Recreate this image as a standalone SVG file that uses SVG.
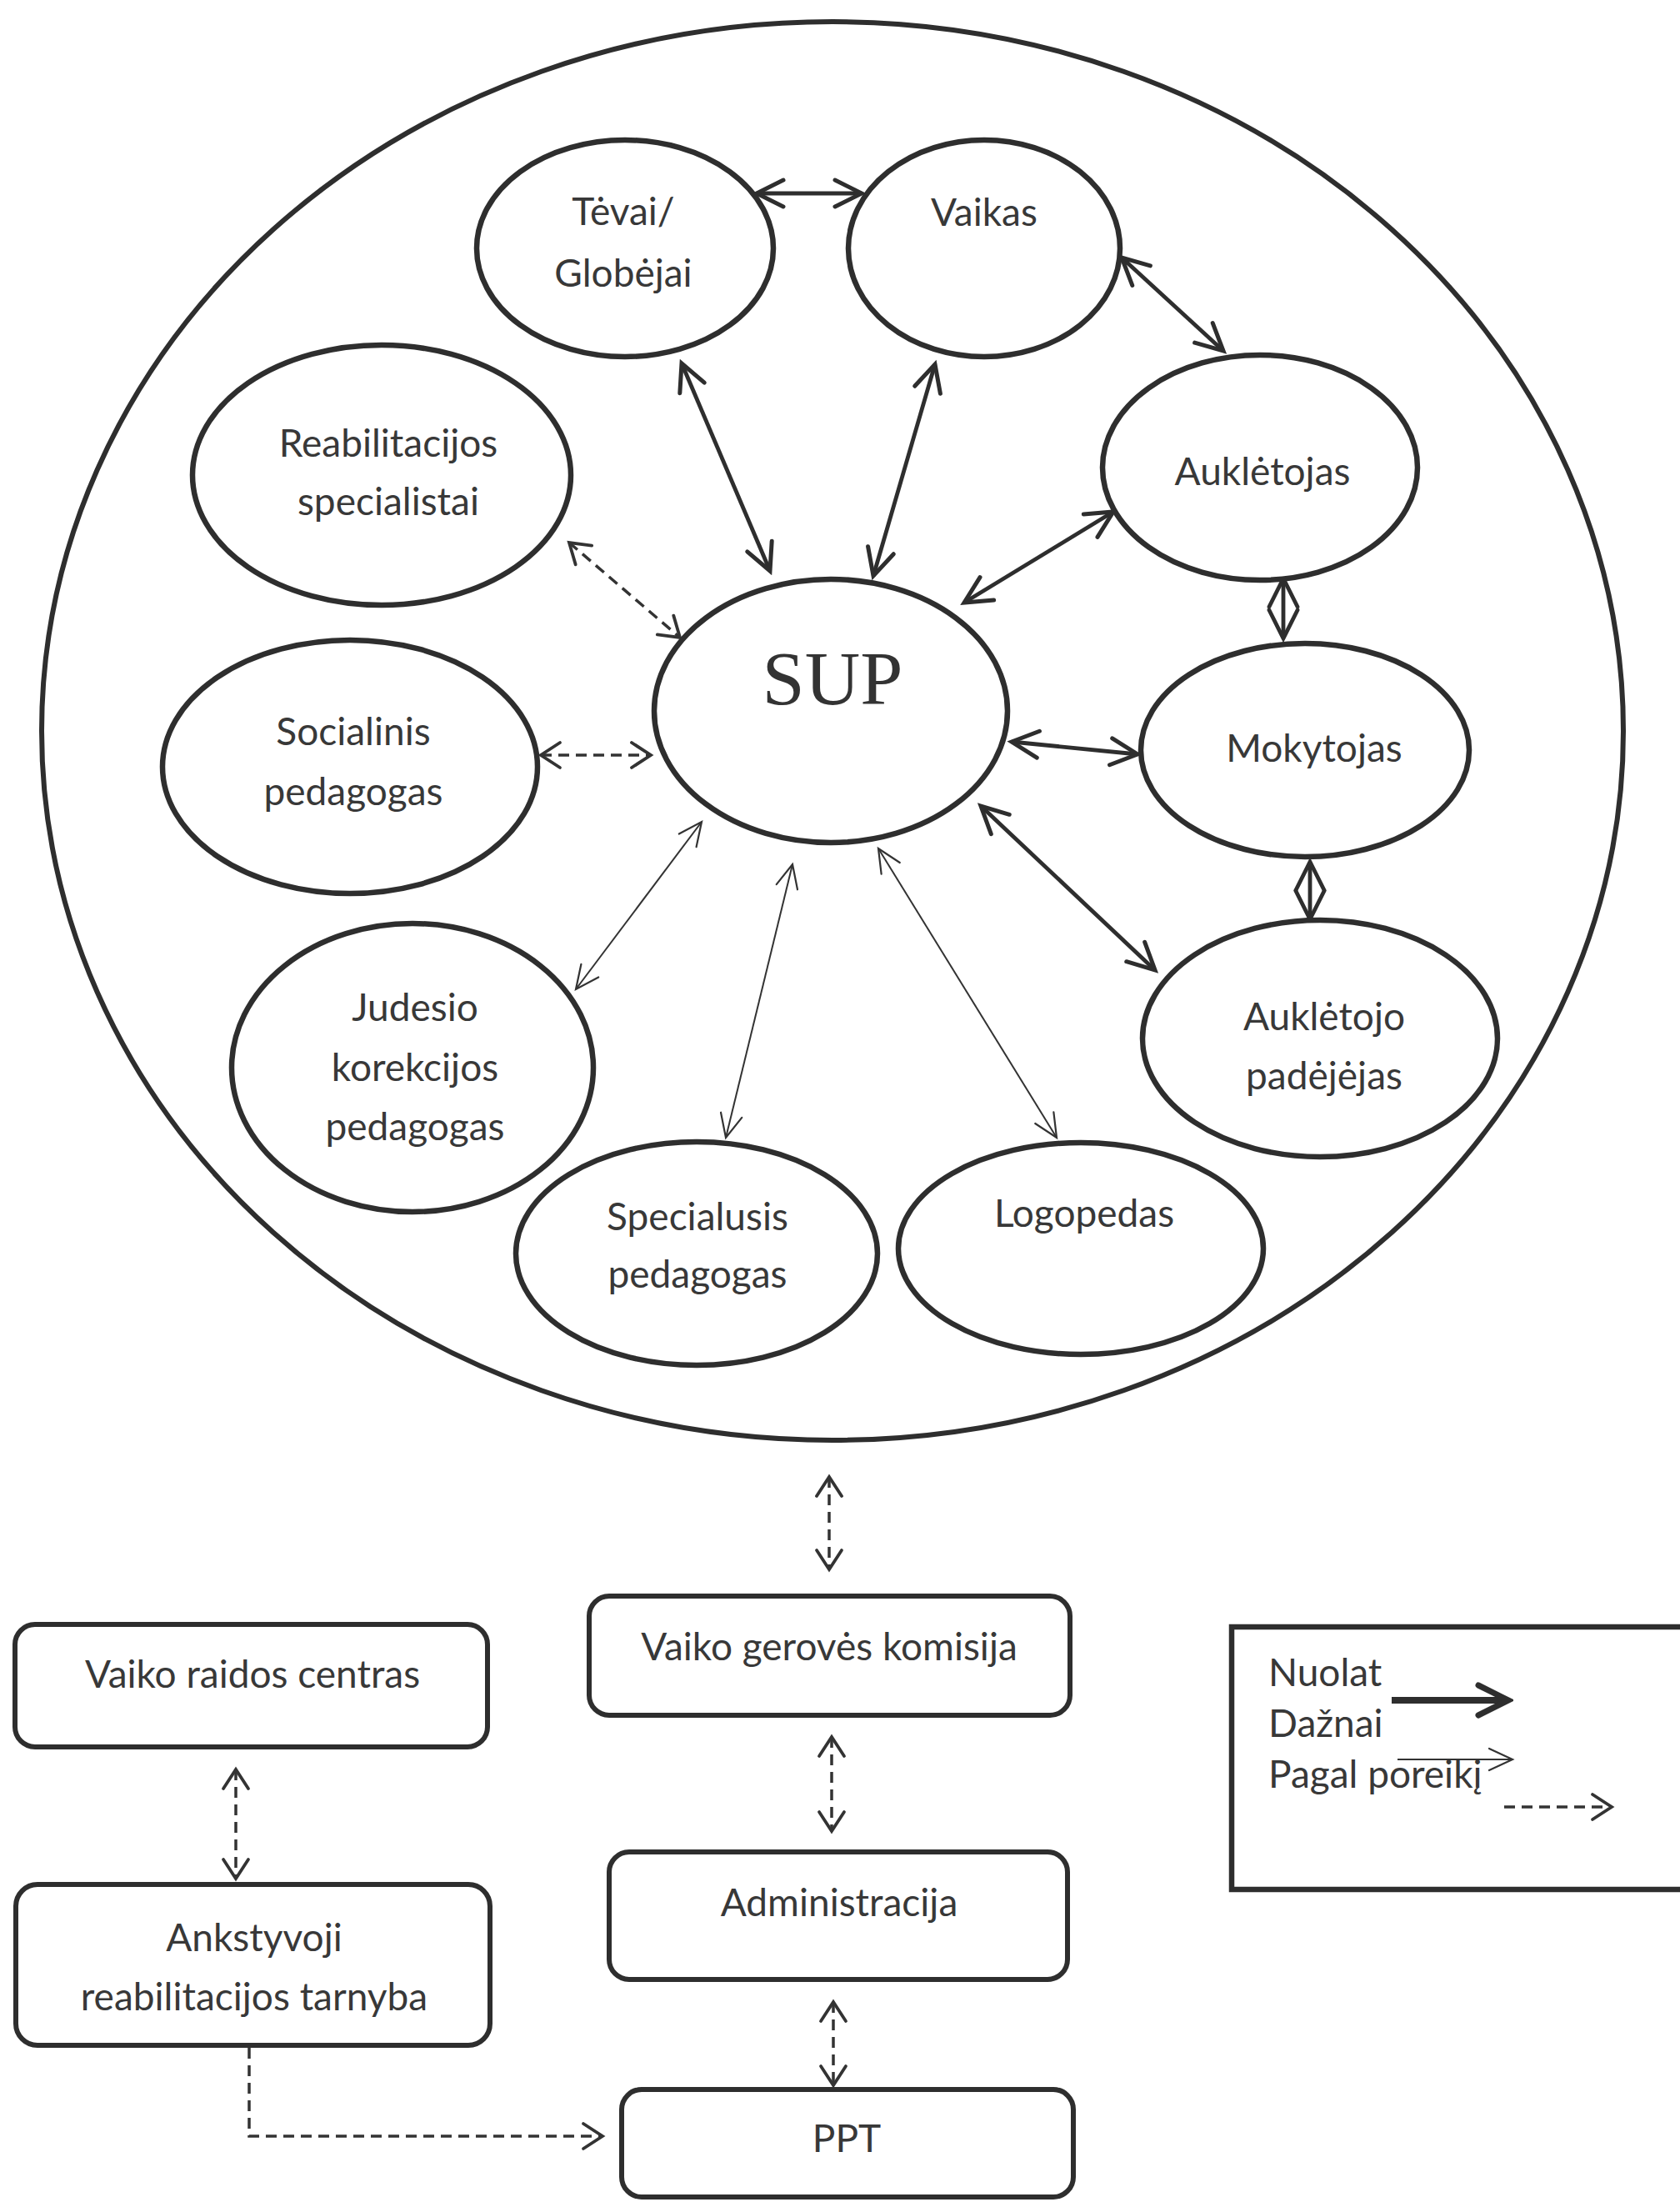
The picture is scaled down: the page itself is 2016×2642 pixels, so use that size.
<svg xmlns="http://www.w3.org/2000/svg" width="2016" height="2642" viewBox="0 0 2016 2642">
<style>
.bg{fill:#ffffff}
.node ellipse{fill:#ffffff;stroke:#2e2e2e;stroke-width:6.5}
.node rect{fill:#ffffff;stroke:#2e2e2e;stroke-width:6}
.big{fill:none;stroke:#2e2e2e;stroke-width:6}
text{font-family:Lato,"Open Sans","DejaVu Sans",sans-serif;font-size:46px;fill:#383838;text-anchor:middle}
.sup{font-family:"Liberation Serif","Times New Roman",serif;font-size:92px;fill:#333333}
.leg{text-anchor:start;font-size:46px}
.thick{stroke:#2e2e2e;stroke-width:4.8;fill:none}
.thin{stroke:#333333;stroke-width:2;fill:none}
.dash{stroke:#333333;stroke-width:3.5;fill:none;stroke-dasharray:13 8}
</style>
<defs>
<marker id="aT" viewBox="-38 -22 44 44" refX="0" refY="0" markerWidth="44" markerHeight="44" markerUnits="userSpaceOnUse" orient="auto-start-reverse">
<path d="M-32,-16 L0,0 L-32,16" fill="none" stroke="#2e2e2e" stroke-width="5" stroke-linecap="round" stroke-linejoin="miter"/>
</marker>
<marker id="aM" viewBox="-38 -22 44 44" refX="0" refY="0" markerWidth="44" markerHeight="44" markerUnits="userSpaceOnUse" orient="auto-start-reverse">
<path d="M-34,-17 L0,0 L-34,17" fill="none" stroke="#2e2e2e" stroke-width="4.8" stroke-linecap="round"/>
</marker>
<marker id="aL" viewBox="-44 -26 50 52" refX="0" refY="0" markerWidth="50" markerHeight="52" markerUnits="userSpaceOnUse" orient="auto">
<path d="M-36,-18 L0,0 L-36,18" fill="none" stroke="#2e2e2e" stroke-width="7" stroke-linecap="round"/>
</marker>
<marker id="aN" viewBox="-34 -18 38 36" refX="0" refY="0" markerWidth="38" markerHeight="36" markerUnits="userSpaceOnUse" orient="auto-start-reverse">
<path d="M-28,-13 L0,0 L-28,13" fill="none" stroke="#333333" stroke-width="2.2" stroke-linecap="round"/>
</marker>
<marker id="aD" viewBox="-28 -18 32 36" refX="0" refY="0" markerWidth="32" markerHeight="36" markerUnits="userSpaceOnUse" orient="auto-start-reverse">
<path d="M-23,-15 L0,0 L-23,15" fill="none" stroke="#333333" stroke-width="3.8" stroke-linecap="round"/>
</marker>
</defs>
<rect class="bg" x="0" y="0" width="2016" height="2642"/>

<g id="outer-circle">
<ellipse class="big" cx="999" cy="877" rx="949" ry="851"/>
</g>

<g id="connectors">
<line class="thick" x1="908" y1="232" x2="1034" y2="232" marker-start="url(#aT)" marker-end="url(#aT)"/>
<line class="thick" x1="1346" y1="309" x2="1468" y2="421" marker-start="url(#aT)" marker-end="url(#aT)"/>
<line class="thick" x1="818" y1="436" x2="924" y2="685" marker-start="url(#aT)" marker-end="url(#aT)"/>
<line class="thick" x1="1122" y1="437" x2="1048" y2="691" marker-start="url(#aT)" marker-end="url(#aT)"/>
<line class="thick" x1="1336" y1="614" x2="1157" y2="723" marker-start="url(#aT)" marker-end="url(#aT)"/>
<line class="thick" x1="1214" y1="890" x2="1365" y2="905" marker-start="url(#aT)" marker-end="url(#aT)"/>
<line class="thick" x1="1177" y1="967" x2="1386" y2="1164" marker-start="url(#aT)" marker-end="url(#aT)"/>
<line class="thick" x1="1540" y1="694" x2="1540" y2="766" marker-start="url(#aM)" marker-end="url(#aM)"/>
<line class="thick" x1="1572" y1="1034" x2="1572" y2="1103" marker-start="url(#aM)" marker-end="url(#aM)"/>
<line class="thin" x1="842" y1="986" x2="691" y2="1187" marker-start="url(#aN)" marker-end="url(#aN)"/>
<line class="thin" x1="951" y1="1037" x2="871" y2="1365" marker-start="url(#aN)" marker-end="url(#aN)"/>
<line class="thin" x1="1054" y1="1018" x2="1268" y2="1365" marker-start="url(#aN)" marker-end="url(#aN)"/>
<line class="dash" x1="683" y1="651" x2="816" y2="765" marker-start="url(#aD)" marker-end="url(#aD)"/>
<line class="dash" x1="649" y1="906" x2="781" y2="906" marker-start="url(#aD)" marker-end="url(#aD)"/>
<line class="dash" x1="995" y1="1772" x2="995" y2="1883" marker-start="url(#aD)" marker-end="url(#aD)"/>
<line class="dash" x1="998" y1="2084" x2="998" y2="2197" marker-start="url(#aD)" marker-end="url(#aD)"/>
<line class="dash" x1="1000" y1="2402" x2="1000" y2="2502" marker-start="url(#aD)" marker-end="url(#aD)"/>
<line class="dash" x1="283" y1="2123" x2="283" y2="2254" marker-start="url(#aD)" marker-end="url(#aD)"/>
<polyline class="dash" points="299,2457 299,2563 723,2563" marker-end="url(#aD)"/>
</g>

<g id="tevai" class="node">
<ellipse cx="750" cy="298" rx="178" ry="130"/>
<text x="748" y="270">Tėvai/</text>
<text x="748" y="344">Globėjai</text>
</g>
<g id="vaikas" class="node">
<ellipse cx="1181" cy="298" rx="163" ry="130"/>
<text x="1181" y="271">Vaikas</text>
</g>
<g id="aukletojas" class="node">
<ellipse cx="1512" cy="561" rx="189" ry="135"/>
<text x="1515" y="582">Auklėtojas</text>
</g>
<g id="reabilitacijos" class="node">
<ellipse cx="458" cy="570" rx="227" ry="156"/>
<text x="466" y="548">Reabilitacijos</text>
<text x="466" y="618">specialistai</text>
</g>
<g id="sup" class="node">
<ellipse cx="997" cy="853" rx="212" ry="158"/>
<text class="sup" x="999" y="845">SUP</text>
</g>
<g id="socialinis" class="node">
<ellipse cx="420" cy="920" rx="225" ry="152"/>
<text x="424" y="894">Socialinis</text>
<text x="424" y="966">pedagogas</text>
</g>
<g id="mokytojas" class="node">
<ellipse cx="1566" cy="900" rx="197" ry="128"/>
<text x="1577" y="914">Mokytojas</text>
</g>
<g id="judesio" class="node">
<ellipse cx="495" cy="1281" rx="217" ry="173"/>
<text x="498" y="1225">Judesio</text>
<text x="498" y="1297">korekcijos</text>
<text x="498" y="1368">pedagogas</text>
</g>
<g id="padejejas" class="node">
<ellipse cx="1584" cy="1246" rx="213" ry="142"/>
<text x="1589" y="1236">Auklėtojo</text>
<text x="1589" y="1307">padėjėjas</text>
</g>
<g id="specialusis" class="node">
<ellipse cx="836" cy="1504" rx="217" ry="134"/>
<text x="837" y="1476">Specialusis</text>
<text x="837" y="1545">pedagogas</text>
</g>
<g id="logopedas" class="node">
<ellipse cx="1297" cy="1498" rx="219" ry="127"/>
<text x="1301" y="1472">Logopedas</text>
</g>

<g id="vgk" class="node">
<rect x="707" y="1915" width="577" height="143" rx="24"/>
<text x="995" y="1992">Vaiko gerovės komisija</text>
</g>
<g id="vrc" class="node">
<rect x="18" y="1949" width="567" height="147" rx="24"/>
<text x="303" y="2025">Vaiko raidos centras</text>
</g>
<g id="ankstyvoji" class="node">
<rect x="19" y="2261" width="569" height="193" rx="26"/>
<text x="305" y="2341">Ankstyvoji</text>
<text x="305" y="2412">reabilitacijos tarnyba</text>
</g>
<g id="administracija" class="node">
<rect x="731" y="2222" width="550" height="153" rx="24"/>
<text x="1007" y="2299">Administracija</text>
</g>
<g id="ppt" class="node">
<rect x="746" y="2507" width="542" height="129" rx="24"/>
<text x="1016" y="2582">PPT</text>
</g>

<g id="legend">
<rect x="1478" y="1952" width="600" height="315" fill="#ffffff" stroke="#2e2e2e" stroke-width="6.5"/>
<text class="leg" x="1522" y="2023">Nuolat</text>
<text class="leg" x="1522" y="2084">Dažnai</text>
<text class="leg" x="1522" y="2145">Pagal poreikį</text>
<line x1="1670" y1="2040" x2="1810" y2="2040" stroke="#2e2e2e" stroke-width="8" marker-end="url(#aL)"/>
<line class="thin" x1="1677" y1="2111" x2="1815" y2="2111" marker-end="url(#aN)"/>
<line class="dash" x1="1805" y1="2168" x2="1934" y2="2168" stroke-dasharray="10 7" marker-end="url(#aD)"/>
</g>
</svg>
